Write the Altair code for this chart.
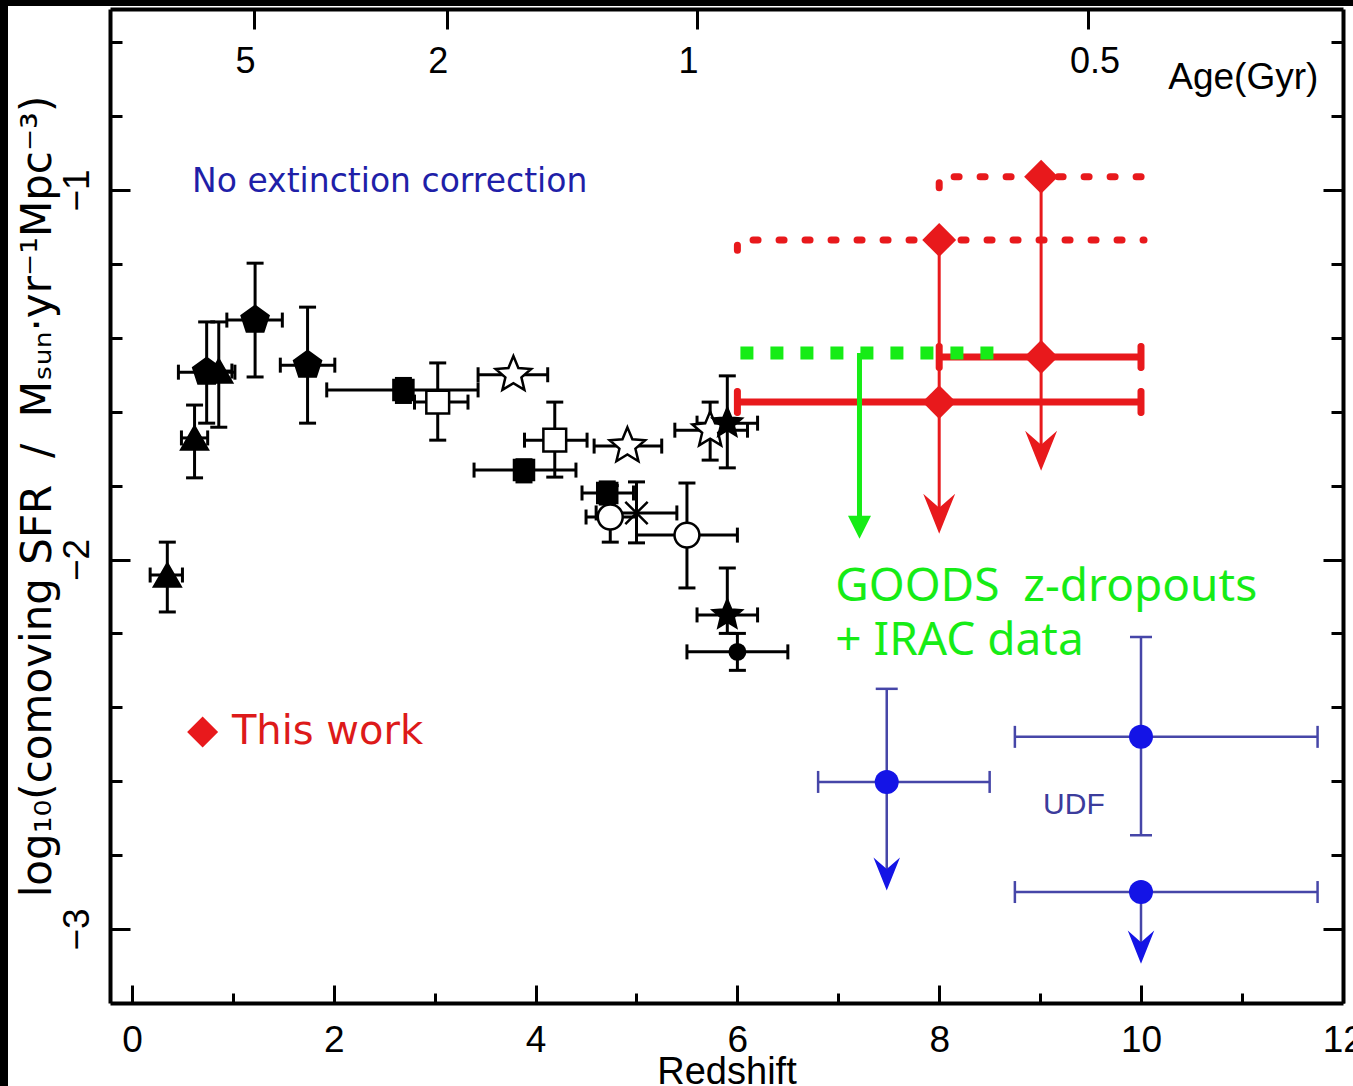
import math
import altair as alt
import pandas as pd

# ---------------- data ----------------
# literature points (black symbols)
lit_kind = ["tri", "tri", "pent", "tri", "pent", "pent", "fsq", "osq", "ostar", "osq",
            "fsq", "ostar", "fsq", "ocirc", "xmark", "ocirc", "ostar", "fstar", "fstar", "fdot"]
lit_z = [0.35, 0.62, 0.74, 0.86, 1.22, 1.74, 2.69, 3.03, 3.78, 4.19,
         3.885, 4.91, 4.71, 4.74, 5.00, 5.50, 5.73, 5.90, 5.90, 6.00]
lit_sfr = [-2.042, -1.671, -1.493, -1.490, -1.352, -1.474, -1.541, -1.574, -1.500, -1.677,
           -1.758, -1.693, -1.820, -1.885, -1.874, -1.934, -1.650, -1.631, -2.150, -2.250]
lit_zlo = [0.18, 0.49, 0.46, 0.80, 0.94, 1.47, 1.93, 2.80, 3.43, 3.89,
           3.39, 4.58, 4.46, 4.50, 4.60, 5.00, 5.38, 5.60, 5.60, 5.50]
lit_zhi = [0.50, 0.75, 1.02, 0.99, 1.49, 2.01, 3.43, 3.33, 4.12, 4.51,
           4.40, 5.25, 4.97, 5.00, 5.40, 6.00, 6.10, 6.20, 6.20, 6.50]
lit_top = [-1.953, -1.582, -1.357, -1.357, -1.198, -1.317, -1.510, -1.468, None, -1.574,
           -1.730, None, -1.790, -1.800, -1.790, -1.793, -1.574, -1.503, -2.023, -2.200]
lit_bot = [-2.142, -1.779, -1.631, -1.642, -1.506, -1.631, -1.575, -1.677, None, -1.777,
           -1.790, None, -1.850, -1.953, -1.955, -2.077, -1.731, -1.752, -2.200, -2.300]

# this work (red)
red_z = [8.0, 9.01, 8.0, 9.01]
red_sfr = [-1.135, -0.964, -1.574, -1.452]
red_dot_z0 = [6.0, 8.0]
red_dot_z1 = [10.03, 10.03]
red_dot_sfr = [-1.135, -0.964]
red_dot_hook = [-1.163, -0.994]
red_lim_z = [8.0, 9.01]
red_lim_top = [-1.135, -0.964]
red_lim_tip = [-1.930, -1.760]
red_bar_z0 = [6.0, 8.0]
red_bar_z1 = [10.0, 10.0]
red_bar_sfr = [-1.574, -1.452]

# GOODS z-dropouts + IRAC (green)
green_z0 = [6.03]
green_z1 = [8.57]
green_sfr = [-1.441]
green_arrow_z = [7.21]
green_arrow_top = [-1.441]
green_arrow_tip = [-1.944]

# UDF (blue)
udf_z = [7.48, 10.0, 10.0]
udf_sfr = [-2.602, -2.480, -2.900]
udf_zlo = [6.80, 8.75, 8.75]
udf_zhi = [8.50, 11.75, 11.75]
udf_top = [-2.350, -2.210, None]
udf_bot = [None, -2.746, None]
udf_tip = [-2.896, None, -3.094]

# axis ticks / labels
x_ticks = [0, 1, 2, 3, 4, 5, 6, 7, 8, 9, 10, 11, 12]
y_ticks = [-3.0, -2.8, -2.6, -2.4, -2.2, -2.0, -1.8, -1.6, -1.4, -1.2, -1.0, -0.8, -0.6]
age_z = [1.21, 3.12, 5.60, 9.47]
age_label = ["5", "2", "1", "0.5"]

# annotation texts
note_text = ["No extinction correction", "This work", "UDF",
             "GOODS\u00a0\u00a0z-dropouts", "+ IRAC data", "Age(Gyr)"]
note_z = [0.595, 0.99, 9.03, 6.97, 6.97, 10.27]
note_sfr = [-0.978, -2.467, -2.664, -2.112, -2.258, -0.697]
legend_z = [0.70]
legend_sfr = [-2.467]

# ---------------- layout ----------------
X_MIN, X_MAX = -0.218, 12.002
Y_MIN, Y_MAX = -3.2003, -0.5101
W, H = 1233, 994
XS = alt.Scale(domain=[X_MIN, X_MAX], nice=False, zero=False)
YS = alt.Scale(domain=[Y_MIN, Y_MAX], nice=False, zero=False)

RED = "#e8191c"
GREEN = "#16ec16"
BLUE = "#1414e6"
BLUE_BAR = "#4646a8"
TICKFONT = "Liberation Sans"


def ex(f, axis=None):
    return alt.X(f"{f}:Q", scale=XS, axis=axis)


def ey(f, axis=None):
    return alt.Y(f"{f}:Q", scale=YS, axis=axis)


def star_path(r_in=0.45):
    pts = []
    for k in range(10):
        r = 1.0 if k % 2 == 0 else r_in
        a = math.radians(-90 + 36 * k)
        pts.append(f"{r * math.cos(a):.3f},{r * math.sin(a):.3f}")
    return "M" + "L".join(pts) + "Z"


def poly_path(n):
    pts = []
    for k in range(n):
        a = math.radians(-90 + 360 / n * k)
        pts.append(f"{math.cos(a):.3f},{math.sin(a):.3f}")
    return "M" + "L".join(pts) + "Z"


STAR = star_path()
PENT = poly_path(5)
XMARK = "M-1,-1L1,1M-1,1L1,-1"
BARB = "M0,0L-0.8,-2L0,-1.3L0.8,-2Z"
TRI = "M0,0L-1,-2L1,-2Z"

# ---------------- axes ----------------
is_major_y = "abs(datum.value - round(datum.value)) < 0.01"
x_axis = alt.Axis(
    orient="bottom", values=x_ticks, format="d", grid=False, zindex=1,
    labelExpr="datum.value % 2 == 0 ? datum.label : ''",
    tickSize={"condition": {"test": "datum.value % 2 == 0", "value": -18}, "value": -10},
    tickWidth=3, tickColor="black", domainColor="black", domainWidth=4,
    labelFont=TICKFONT, labelFontSize=37, labelColor="black", labelPadding=37,
    labelBaseline="top", labelFlush=False, labelOverlap=False,
    title="Redshift", titleFont=TICKFONT, titleFontSize=38, titleFontWeight="normal",
    titleColor="black", titleY=80, titleBaseline="alphabetic",
)
y_axis = alt.Axis(
    orient="left", values=y_ticks, format=".0f", grid=False, zindex=1,
    labelExpr=f"{is_major_y} ? datum.label : ''",
    tickSize={"condition": {"test": is_major_y, "value": -20}, "value": -12},
    tickWidth=3, tickColor="black", domainColor="black", domainWidth=4,
    labelFont=TICKFONT, labelFontSize=37, labelColor="black", labelAngle=270,
    labelAlign="center", labelBaseline="alphabetic", labelPadding=42, labelOverlap=False,
    title="log₁₀(comoving SFR\u00a0 /\u00a0 Mₛᵤₙ·yr⁻¹Mpc⁻³)", titleFont="DejaVu Sans",
    titleFontSize=42, titleFontWeight="normal", titleColor="black", titleAngle=270,
    titleX=-60, titleY=487, titleBaseline="alphabetic", titleAlign="center",
)
age_expr = "''"
for zv, lab in reversed(list(zip(age_z, age_label))):
    age_expr = f"abs(datum.value - {zv}) < 0.001 ? '{lab}' : " + age_expr
top_axis = alt.Axis(
    orient="top", values=age_z, grid=False, zindex=1, labelExpr=age_expr,
    tickSize=alt.ExprRef("-20"), tickWidth=3, tickColor="black",
    domainColor="black", domainWidth=4,
    labelFont=TICKFONT, labelFontSize=36, labelColor="black", labelPadding=-43,
    labelBaseline="alphabetic", labelFlush=False, labelOverlap=False,
    labelOffset={"condition": {"test": "datum.value > 9", "value": 7}, "value": -9},
    title=None,
)
right_axis = alt.Axis(
    orient="right", values=y_ticks, grid=False, zindex=1, labels=False,
    tickSize={"condition": {"test": is_major_y, "value": -20}, "value": -12},
    tickWidth=3, tickColor="black", domainColor="black", domainWidth=4, title=None,
)

# ---------------- frames ----------------
lit = pd.DataFrame(dict(kind=lit_kind, z=lit_z, sfr=lit_sfr, zlo=lit_zlo, zhi=lit_zhi,
                        top=lit_top, bot=lit_bot))
lit_y = lit.dropna(subset=["top", "bot"])
lit_xcap = pd.concat([lit[["zlo", "sfr"]].rename(columns={"zlo": "zc"}),
                      lit[["zhi", "sfr"]].rename(columns={"zhi": "zc"})])
lit_ycap = pd.concat([lit_y[["z", "top"]].rename(columns={"top": "yc"}),
                      lit_y[["z", "bot"]].rename(columns={"bot": "yc"})])

red = pd.DataFrame(dict(z=red_z, sfr=red_sfr))
rows = []
for i in range(len(red_dot_z0)):
    rows += [dict(g=i, o=0, z=red_dot_z0[i], s=red_dot_hook[i]),
             dict(g=i, o=1, z=red_dot_z0[i], s=red_dot_sfr[i]),
             dict(g=i, o=2, z=red_dot_z1[i], s=red_dot_sfr[i])]
red_dot = pd.DataFrame(rows)
red_lim = pd.DataFrame(dict(z=red_lim_z, top=red_lim_top, tip=red_lim_tip))
red_bar = pd.DataFrame(dict(z0=red_bar_z0, z1=red_bar_z1, s=red_bar_sfr))
red_cap = pd.concat([red_bar[["z0", "s"]].rename(columns={"z0": "zc"}),
                     red_bar[["z1", "s"]].rename(columns={"z1": "zc"})])

green = pd.DataFrame(dict(z0=green_z0, z1=green_z1, s=green_sfr))
green_arr = pd.DataFrame(dict(z=green_arrow_z, top=green_arrow_top, tip=green_arrow_tip))

udf = pd.DataFrame(dict(z=udf_z, sfr=udf_sfr, zlo=udf_zlo, zhi=udf_zhi,
                        top=udf_top, bot=udf_bot, tip=udf_tip))
udf_up = udf.dropna(subset=["top"])
udf_dn = udf.dropna(subset=["bot"])
udf_ar = udf.dropna(subset=["tip"])
udf_xcap = pd.concat([udf[["zlo", "sfr"]].rename(columns={"zlo": "zc"}),
                      udf[["zhi", "sfr"]].rename(columns={"zhi": "zc"})])
udf_ycap = pd.concat([udf_up[["z", "top"]].rename(columns={"top": "yc"}),
                      udf_dn[["z", "bot"]].rename(columns={"bot": "yc"})])

# ---------------- layers ----------------
layers = []

# white page (leaves the thin black strips on the left and top edges)
layers.append(alt.Chart(pd.DataFrame({"a": [0]})).mark_rect(color="white").encode(
    x=alt.value(-102), x2=alt.value(1243), y=alt.value(-3), y2=alt.value(1077)))

# literature error bars
layers.append(alt.Chart(lit).mark_rule(color="black", strokeWidth=3).encode(
    x=ex("zlo", x_axis), x2="zhi:Q", y=ey("sfr", y_axis)))
layers.append(alt.Chart(lit_y).mark_rule(color="black", strokeWidth=3).encode(
    x=ex("z"), y=ey("top"), y2="bot:Q"))
layers.append(alt.Chart(lit_xcap).mark_tick(orient="vertical", size=15, thickness=3,
                                            color="black", opacity=1).encode(
    x=ex("zc"), y=ey("sfr")))
layers.append(alt.Chart(lit_ycap).mark_tick(orient="horizontal", size=17, thickness=3,
                                            color="black", opacity=1).encode(
    x=ex("z"), y=ey("yc")))

kinds = ["tri", "pent", "fsq", "osq", "ostar", "fstar", "ocirc", "fdot", "xmark"]
k_shape = ["triangle-up", PENT, "square", "square", STAR, STAR, "circle", "circle", XMARK]
k_size = [700, 800, 400, 520, 1400, 900, 620, 240, 500]
k_fill = ["black", "black", "black", "white", "white", "black", "white", "black", "white"]
layers.append(alt.Chart(lit).mark_point(filled=True, stroke="black", strokeWidth=2.5,
                                        opacity=1).encode(
    x=ex("z"), y=ey("sfr"),
    shape=alt.Shape("kind:N", scale=alt.Scale(domain=kinds, range=k_shape), legend=None),
    size=alt.Size("kind:N", scale=alt.Scale(type="ordinal", domain=kinds, range=k_size),
                  legend=None),
    fill=alt.Fill("kind:N", scale=alt.Scale(domain=kinds, range=k_fill), legend=None)))

# red: dotted ranges, limit arrows, thick ranges, diamonds
layers.append(alt.Chart(red_dot).mark_line(color=RED, strokeWidth=7, strokeDash=[5, 21],
                                           strokeCap="round").encode(
    x=ex("z"), y=ey("s"), detail="g:N", order="o:Q"))
layers.append(alt.Chart(red_lim).mark_rule(color=RED, strokeWidth=3, y2Offset=-14).encode(
    x=ex("z"), y=ey("top"), y2="tip:Q"))
layers.append(alt.Chart(red_lim).mark_point(shape=BARB, size=1600, filled=True, color=RED,
                                            opacity=1).encode(x=ex("z"), y=ey("tip")))
layers.append(alt.Chart(red_bar).mark_rule(color=RED, strokeWidth=7).encode(
    x=ex("z0"), x2="z1:Q", y=ey("s")))
layers.append(alt.Chart(red_cap).mark_tick(orient="vertical", size=28, thickness=7,
                                           color=RED, opacity=1, cornerRadius=3).encode(
    x=ex("zc"), y=ey("s")))
layers.append(alt.Chart(red).mark_point(shape="diamond", size=1150, filled=True, color=RED,
                                        opacity=1).encode(
    x=ex("z", top_axis), y=ey("sfr", right_axis)))

# green
layers.append(alt.Chart(green).mark_rule(color=GREEN, strokeWidth=13, strokeDash=[13, 17]).encode(
    x=ex("z0"), x2="z1:Q", y=ey("s")))
layers.append(alt.Chart(green_arr).mark_rule(color=GREEN, strokeWidth=5, y2Offset=-10).encode(
    x=ex("z"), y=ey("top"), y2="tip:Q"))
layers.append(alt.Chart(green_arr).mark_point(shape=TRI, size=529, filled=True, color=GREEN,
                                              opacity=1).encode(x=ex("z"), y=ey("tip")))

# blue UDF
layers.append(alt.Chart(udf).mark_rule(color=BLUE_BAR, strokeWidth=2.5).encode(
    x=ex("zlo"), x2="zhi:Q", y=ey("sfr")))
layers.append(alt.Chart(udf_up).mark_rule(color=BLUE_BAR, strokeWidth=2.5).encode(
    x=ex("z"), y=ey("sfr"), y2="top:Q"))
layers.append(alt.Chart(udf_dn).mark_rule(color=BLUE_BAR, strokeWidth=2.5).encode(
    x=ex("z"), y=ey("sfr"), y2="bot:Q"))
layers.append(alt.Chart(udf_ar).mark_rule(color=BLUE_BAR, strokeWidth=2.5, y2Offset=-10).encode(
    x=ex("z"), y=ey("sfr"), y2="tip:Q"))
layers.append(alt.Chart(udf_xcap).mark_tick(orient="vertical", size=22, thickness=2.5,
                                            color=BLUE_BAR, opacity=1).encode(
    x=ex("zc"), y=ey("sfr")))
layers.append(alt.Chart(udf_ycap).mark_tick(orient="horizontal", size=22, thickness=2.5,
                                            color=BLUE_BAR, opacity=1).encode(
    x=ex("z"), y=ey("yc")))
layers.append(alt.Chart(udf_ar).mark_point(shape=BARB, size=1100, filled=True, color=BLUE,
                                           opacity=1).encode(x=ex("z"), y=ey("tip")))
layers.append(alt.Chart(udf).mark_point(shape="circle", size=576, filled=True, color=BLUE,
                                        opacity=1).encode(x=ex("z"), y=ey("sfr")))

# annotations
note_style = [
    dict(font="DejaVu Sans", fontSize=33, color="#1f1fa8", baseline="middle"),
    dict(font="DejaVu Sans", fontSize=40, color="#dd1a1a", baseline="middle"),
    dict(font="Liberation Sans", fontSize=30, color="#3c3c9c", baseline="middle"),
    dict(font="Noto Sans", fontSize=46, color=GREEN, baseline="alphabetic"),
    dict(font="Noto Sans", fontSize=46, color=GREEN, baseline="alphabetic"),
    dict(font="Liberation Sans", fontSize=37, color="black", baseline="middle"),
]
for t, zv, sv, st in zip(note_text, note_z, note_sfr, note_style):
    df = pd.DataFrame({"z": [zv], "s": [sv], "t": [t]})
    layers.append(alt.Chart(df).mark_text(align="left", **st).encode(
        x=ex("z"), y=ey("s"), text="t:N"))
layers.append(alt.Chart(pd.DataFrame({"z": legend_z, "s": legend_sfr})).mark_point(
    shape="diamond", size=960, filled=True, color=RED, opacity=1).encode(
    x=ex("z"), y=ey("s")))

chart = alt.layer(*layers).resolve_axis(x="independent", y="independent").properties(
    width=W, height=H,
    autosize=alt.AutoSizeParams(type="none"),
    padding={"left": 110, "top": 9, "right": 10, "bottom": 83},
    background="black",
).configure_view(stroke="transparent")

chart.save("out.html", embed_options={"renderer": "svg", "actions": False})
